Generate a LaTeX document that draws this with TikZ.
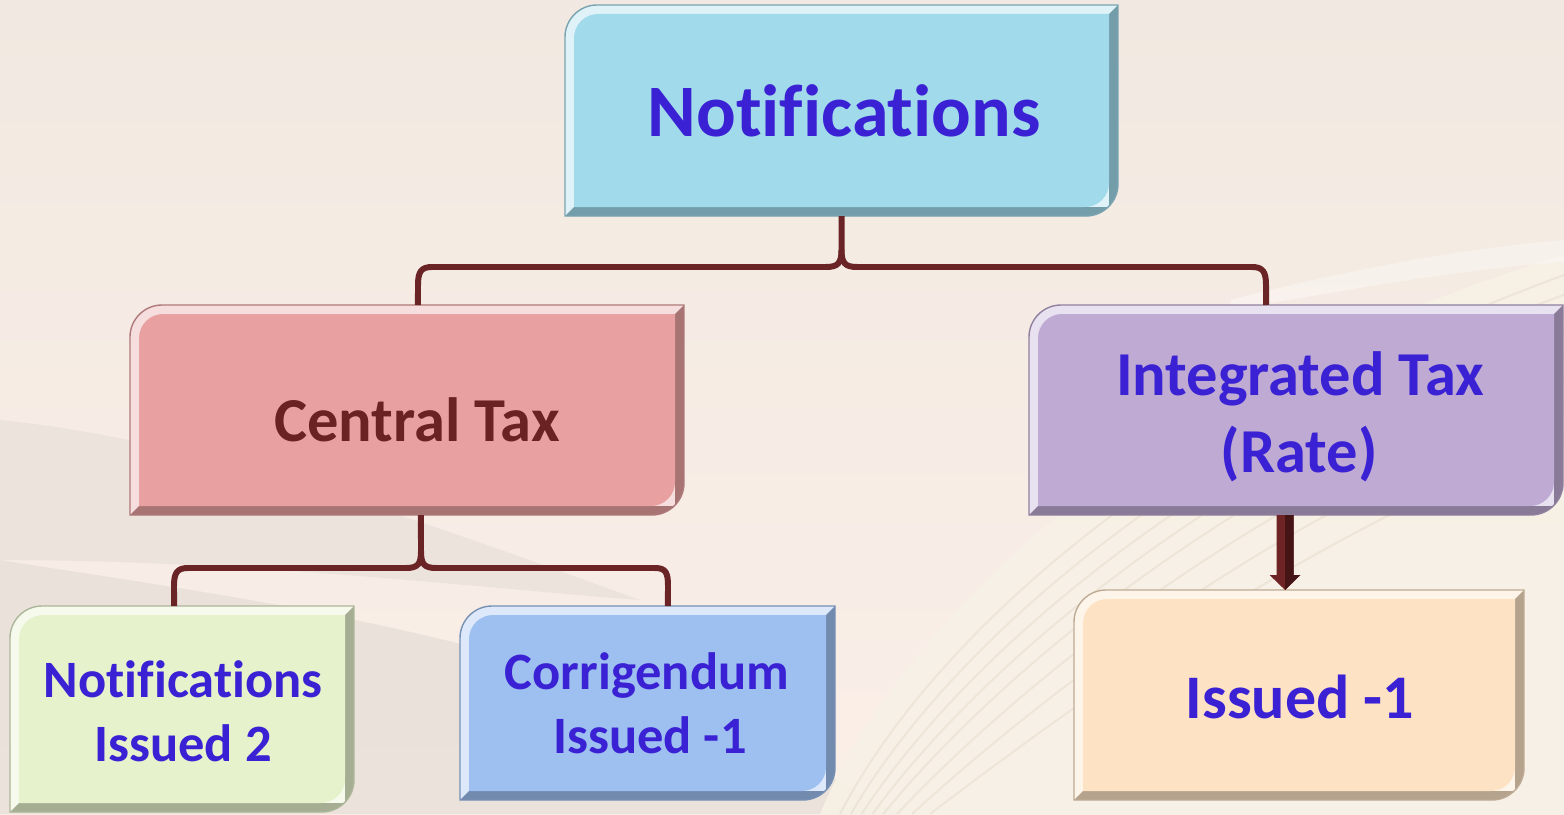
\documentclass[tikz,border=0pt]{standalone}
\usepackage{fontspec}
\setmainfont{Carlito}[Ligatures={NoCommon,NoContextual,NoRequired}]
\usetikzlibrary{arrows.meta,calc}
\newcommand\nl{\kern0pt }
\definecolor{txtblue}{HTML}{3A22D4}
\definecolor{txtred}{HTML}{6B2222}
\definecolor{cConn}{HTML}{6A2426}
\definecolor{cArrL}{HTML}{6E2424}
\definecolor{cArrD}{HTML}{451414}
\definecolor{cTop}{HTML}{A0DAEB}
\definecolor{cCt}{HTML}{E8A1A0}
\definecolor{cIg}{HTML}{BEAAD3}
\definecolor{cNi}{HTML}{E6F2CB}
\definecolor{cCo}{HTML}{9DC0F0}
\definecolor{cIs}{HTML}{FDE2C4}
\definecolor{bgTop}{HTML}{FBEFE8}
\definecolor{bgBot}{HTML}{F1E9E1}
\definecolor{bgGrey}{HTML}{D9D3CD}
\definecolor{bgPage}{HTML}{F7F1E6}
\definecolor{bgLine}{HTML}{E3D8C6}
% rounded-diagonal rectangle path: x1 y1 x2 y2 r (pixel coords, y downwards)
\def\rdpath#1#2#3#4#5{({#1},{#4}) -- ({#1},{#2+#5}) .. controls ({#1},{#2+0.45*#5}) and ({#1+0.45*#5},{#2}) .. ({#1+#5},{#2}) -- ({#3},{#2}) -- ({#3},{#4-#5}) .. controls ({#3},{#4-0.45*#5}) and ({#3-0.45*#5},{#4}) .. ({#3-#5},{#4}) -- cycle}
\newcommand\bevbox[5]{%
  \fill[#5!35!white] \rdpath{#1}{#2}{#3}{#4}{32};
  \begin{scope}
    \clip \rdpath{#1}{#2}{#3}{#4}{32};
    \fill[#5!72!black] ({#3},{#2}) -- ({#3-9},{#2+9}) -- ({#3-9},{#4-9}) -- ({#1+9},{#4-9}) -- ({#1},{#4}) -- ({#3},{#4}) -- cycle;
  \end{scope}
  \fill[#5] \rdpath{#1+9}{#2+9}{#3-9}{#4-9}{24};
  \draw[#5!75!black, line width=1.4] \rdpath{#1}{#2}{#3}{#4}{32};
}
\newcommand\boxnode[6]{% name x1 y1 x2 y2 colour
  \bevbox{#2}{#3}{#4}{#5}{#6}
  \node[geom, minimum width={(#4-#2)*1bp}, minimum height={(#5-#3)*1bp}] (#1) at ({(#2+#4)/2},{(#3+#5)/2}) {};
}
\tikzset{
  geom/.style={inner sep=0, outer sep=0},
  conn/.style={draw=cConn, line width=6, line cap=butt, line join=round},
  lbl/.style={inner sep=0, anchor=base, text=txtblue, font=\bfseries\fontsize{#1}{#1}\selectfont},
  pageline/.style={draw=bgLine, line width=2, opacity=0.45},
}
\begin{document}
\begin{tikzpicture}[x=1bp, y=-1bp]
\useasboundingbox (0,0) rectangle (1564,814);
\shade[top color=bgBot, bottom color=bgTop] (0,0) rectangle (1564,814);
% faint open-book background
\fill[bgGrey, opacity=0.45] (0,560) .. controls (250,600) and (600,640) .. (900,814) -- (0,814) -- cycle;
\fill[bgGrey, opacity=0.35] (0,420) .. controls (200,440) and (420,520) .. (640,600) .. controls (500,590) and (250,560) .. (0,560) -- cycle;
\fill[bgPage, opacity=0.9] (820,814) .. controls (900,620) and (1150,380) .. (1564,255) -- (1564,814) -- cycle;
\foreach \d in {0,18,36,54,72,95,120,150}{
  \draw[pageline] ({840+\d*0.6},814) .. controls ({930+\d},{640+\d*0.4}) and ({1170+\d},{420+\d*0.7}) .. (1564,{275+\d*1.1});
}
\fill[white, opacity=0.35] (1230,300) .. controls (1350,270) and (1450,250) .. (1564,240) -- (1564,262) .. controls (1450,270) and (1350,290) .. (1230,310) -- cycle;
% boxes
\boxnode{top}{565}{5}{1118}{216}{cTop}
\boxnode{ct}{130}{305}{684}{515}{cCt}
\boxnode{ig}{1029}{305}{1563}{515}{cIg}
\boxnode{ni}{10}{606}{354}{812}{cNi}
\boxnode{co}{460}{606}{835}{800}{cCo}
\boxnode{is}{1074}{590}{1524}{800}{cIs}
% connectors
\draw[conn] (top.south) -- (841.5,250) .. controls (841.5,263) and (838,267) .. (826,267) -- (432,267) .. controls (421,267) and (418,272) .. (418,285) -- ([xshift=11]ct.north);
\draw[conn] (841.5,250) .. controls (841.5,263) and (845,267) .. (857,267) -- (1252,267) .. controls (1263,267) and (1266,272) .. (1266,285) -- ([xshift=-30]ig.north);
\draw[conn] ([xshift=14]ct.south) -- (421,551) .. controls (421,564) and (418,568) .. (406,568) -- (188,568) .. controls (177,568) and (174,573) .. (174,586) -- ([xshift=-8]ni.north);
\draw[conn] (421,551) .. controls (421,564) and (424,568) .. (436,568) -- (655,568) .. controls (666,568) and (668,573) .. (668,586) -- ([xshift=20.5]co.north);
% arrow
\coordinate (as) at ([xshift=-11]ig.south);
\coordinate (ae) at ([xshift=-14]is.north);
\draw[draw=cArrL, line width=17, -{Triangle[width=30bp,length=15bp]}] (as) -- (ae);
\fill[cArrD] (as) -- ($(as)+(8.5,0)$) -- ($(ae)+(8.5,-15)$) -- ($(ae)+(15,-15)$) -- (ae) -- cycle;
% texts
\node[lbl=74bp] (t-top) at (844,136) {Not\nl i\nl f\nl icat\nl ions};
\node[lbl=62.5bp, text=txtred] (t-ct) at (417,441) {Central Tax};
\node[lbl=62.5bp] (t-ig1) at (1300,395) {Integrated Tax};
\node[lbl=62.5bp] (t-ig2) at (1299,472) {(Rate)};
\node[lbl=52.5bp] (t-ni1) at (183,697) {Not\nl i\nl f\nl icat\nl ions};
\node[lbl=52.5bp] (t-ni2) at (183,761) {Issued 2};
\node[lbl=52.5bp] (t-co1) at (647,689) {Corrigendum};
\node[lbl=52.5bp] (t-co2) at (650,753) {Issued -1};
\node[lbl=62bp] (t-is) at (1300,718) {Issued -1};
\end{tikzpicture}
\end{document}
